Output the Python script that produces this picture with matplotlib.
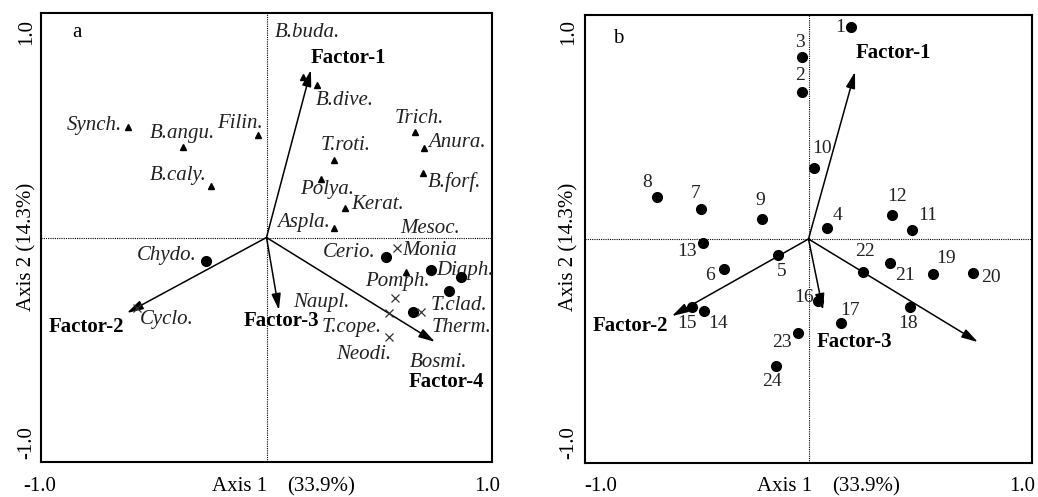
import matplotlib
matplotlib.use("Agg")
import matplotlib.pyplot as plt

plt.rcParams['font.family'] = ['Liberation Serif', 'DejaVu Serif']

# ---- panel a: species scores ----
tri_names = ["Synch.", "B.angu.", "Filin.", "B.caly.", "B.buda.", "B.dive.", "Trich.",
             "Anura.", "B.forf.", "T.roti.", "Polya.", "Kerat.", "Aspla.", "Pomph."]
tri_x = [-0.614, -0.370, -0.038, -0.246, 0.162, 0.224, 0.659,
         0.698, 0.694, 0.299, 0.242, 0.348, 0.299, 0.619]
tri_y = [0.492, 0.404, 0.457, 0.229, 0.715, 0.679, 0.470,
         0.399, 0.287, 0.345, 0.261, 0.131, 0.042, -0.154]

circ_names = ["Chydo.", "Cerio.", "Diaph.", "Monia", "T.clad.", "Bosmi."]
circ_x = [-0.268, 0.530, 0.729, 0.862, 0.809, 0.650]
circ_y = [-0.105, -0.087, -0.145, -0.176, -0.238, -0.332]

cross_names = ["Mesoc.", "Naupl.", "T.cope.", "Neodi.", "Therm.", "Cyclo."]
cross_x = [0.579, 0.570, 0.543, 0.543, 0.685, -0.574]
cross_y = [-0.047, -0.269, -0.336, -0.443, -0.332, -0.314]

factor_names = ["Factor-1", "Factor-2", "Factor-3", "Factor-4"]
fac_a_x = [0.197, -0.619, 0.055, 0.747]
fac_a_y = [0.746, -0.336, -0.323, -0.465]

# ---- panel b: sample scores ----
site_ids = [1, 2, 3, 4, 5, 6, 7, 8, 9, 10, 11, 12,
            13, 14, 15, 16, 17, 18, 19, 20, 21, 22, 23, 24]
site_x = [0.190, -0.030, -0.029, 0.083, -0.136, -0.378, -0.481, -0.678, -0.208, 0.025, 0.463, 0.373,
          -0.472, -0.468, -0.521, 0.043, 0.145, 0.454, 0.558, 0.736, 0.365, 0.245, -0.047, -0.145]
site_y = [0.946, 0.656, 0.813, 0.049, -0.071, -0.134, 0.134, 0.188, 0.089, 0.317, 0.040, 0.107,
          -0.018, -0.321, -0.304, -0.277, -0.375, -0.304, -0.156, -0.152, -0.107, -0.147, -0.420, -0.567]
fac_b_x = [0.208, -0.611, 0.065, 0.758]
fac_b_y = [0.746, -0.344, -0.317, -0.460]

# label placement (data coords, left edge / vertical centre)
species_lab = {
    "Synch.": (-0.885, 0.501), "B.angu.": (-0.517, 0.465), "Filin.": (-0.220, 0.510),
    "B.caly.": (-0.517, 0.278), "B.buda.": (0.038, 0.915), "B.dive.": (0.220, 0.612),
    "Trich.": (0.570, 0.532), "Anura.": (0.716, 0.425), "T.roti.": (0.242, 0.412),
    "B.forf.": (0.716, 0.247), "Polya.": (0.149, 0.212), "Kerat.": (0.375, 0.145),
    "Aspla.": (0.047, 0.065), "Mesoc.": (0.592, 0.042), "Chydo.": (-0.574, -0.078),
    "Cyclo.": (-0.561, -0.367), "Cerio.": (0.251, -0.069), "Monia": (0.601, -0.056),
    "Diaph.": (0.752, -0.145), "Pomph.": (0.437, -0.198), "Naupl.": (0.118, -0.288),
    "T.clad.": (0.729, -0.301), "T.cope.": (0.246, -0.403), "Therm.": (0.734, -0.399),
    "Neodi.": (0.308, -0.523), "Bosmi.": (0.636, -0.559),
}
factor_lab_a = [(0.197, 0.800), (-0.965, -0.399), (-0.100, -0.372), (0.632, -0.644)]
factor_lab_b = [(0.213, 0.830), (-0.964, -0.388), (0.038, -0.460), None]
site_lab = {
    1: (0.141, 0.946), 2: (-0.038, 0.732), 3: (-0.038, 0.879), 4: (0.128, 0.107),
    5: (-0.119, -0.143), 6: (-0.441, -0.165), 7: (-0.503, 0.205), 8: (-0.723, 0.254),
    9: (-0.217, 0.174), 10: (0.060, 0.406), 11: (0.535, 0.107), 12: (0.396, 0.188),
    13: (-0.544, -0.054), 14: (-0.405, -0.379), 15: (-0.544, -0.379), 16: (-0.020, -0.263),
    17: (0.186, -0.317), 18: (0.445, -0.375), 19: (0.615, -0.089), 20: (0.817, -0.174),
    21: (0.432, -0.165), 22: (0.253, -0.058), 23: (-0.119, -0.464), 24: (-0.163, -0.638),
}

W, H = 1038, 497
fig = plt.figure(figsize=(W / 100, H / 100), dpi=100)
ax_a = fig.add_axes([41 / W, 1 - 462 / H, 451 / W, 449 / H])
ax_b = fig.add_axes([585 / W, 1 - 463 / H, 447 / W, 448 / H])

FS = 15


def base(ax):
    ax.set_xlim(-1, 1)
    ax.set_ylim(-1, 1)
    ax.set_xticks([])
    ax.set_yticks([])
    for s in ax.spines.values():
        s.set_linewidth(1.5)
    ax.axhline(0, color='k', lw=0.8, ls=(0, (1, 1)), zorder=1)
    ax.axvline(0, color='k', lw=0.8, ls=(0, (1, 1)), zorder=1)


def arrows(ax, xs, ys):
    for x, y in zip(xs, ys):
        ax.annotate("", xy=(x, y), xytext=(0, 0),
                    arrowprops=dict(arrowstyle='-|>,head_length=0.7,head_width=0.2',
                                    mutation_scale=14, lw=1.1, color='k',
                                    shrinkA=0, shrinkB=0), zorder=3)


# panel a
base(ax_a)
arrows(ax_a, fac_a_x, fac_a_y)
ax_a.plot(tri_x, tri_y, '^', color='k', ms=5, zorder=4)
ax_a.plot(circ_x, circ_y, 'o', color='k', ms=7, zorder=4)
ax_a.plot(cross_x, cross_y, 'x', color='#333333', ms=6, mew=0.9, zorder=4)
for name, (lx, ly) in species_lab.items():
    ax_a.text(lx, ly, name, fontsize=FS, style='italic', ha='left', va='center', color='#222222')
for name, pos in zip(factor_names, factor_lab_a):
    ax_a.text(pos[0], pos[1], name, fontsize=FS, fontweight='bold', ha='left', va='center')
ax_a.text(-0.863, 0.915, "a", fontsize=FS, ha='left', va='center')

# panel b
base(ax_b)
arrows(ax_b, fac_b_x, fac_b_y)
ax_b.plot(site_x, site_y, 'o', color='k', ms=7, zorder=4)
for sid in site_ids:
    lx, ly = site_lab[sid]
    ax_b.text(lx, ly, str(sid), fontsize=14, ha='center', va='center', color='#222222')
for name, pos in zip(factor_names, factor_lab_b):
    if pos is not None:
        ax_b.text(pos[0], pos[1], name, fontsize=FS, fontweight='bold', ha='left', va='center')
ax_b.text(-0.875, 0.897, "b", fontsize=FS, ha='left', va='center')


# corner / axis labels in figure pixels
def ftext(px, py, s, **kw):
    fig.text(px / W, 1 - py / H, s, fontsize=FS, **kw)


for x0, xl, xc, xr in [(27, 40, 267, 487), (569, 601, 812, 1022)]:
    ftext(x0, 32, "1.0", rotation=90, ha='center', va='center')
    ftext(x0, 247, "Axis 2 (14.3%)", rotation=90, ha='center', va='center')
    ftext(x0, 443, "-1.0", rotation=90, ha='center', va='center')
    ftext(xl, 491, "-1.0", ha='center', va='baseline')
    ftext(xc, 491, "Axis 1", ha='right', va='baseline')
    ftext(xc + 20, 491, "(33.9%)", ha='left', va='baseline')
    ftext(xr, 491, "1.0", ha='center', va='baseline')

fig.savefig("out.png", dpi=100, facecolor='white')
